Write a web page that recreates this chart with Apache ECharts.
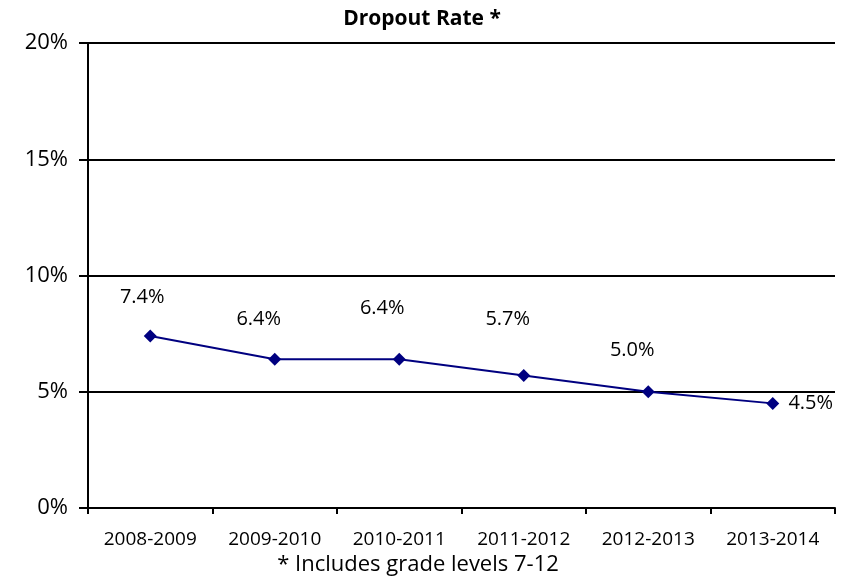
<!DOCTYPE html>
<html>
<head>
<meta charset="utf-8">
<script src="https://cdn.jsdelivr.net/npm/echarts@6/dist/echarts.min.js"></script>
<style>html,body{margin:0;padding:0;background:#fff}#c{width:844px;height:583px}</style>
</head>
<body>
<div id="c"></div>
<script>
const categories = ['2008-2009','2009-2010','2010-2011','2011-2012','2012-2013','2013-2014'];
const dropoutRate = [7.4, 6.4, 6.4, 5.7, 5.0, 4.5];
const labelTexts = ['7.4%','6.4%','6.4%','5.7%','5.0%','4.5%'];
const yTicks = [0, 5, 10, 15, 20];
const footnote = '* Includes grade levels 7-12';
// label placement (style only): pixel offset of label centre from its point
const labelOffsets = [[-8,-39],[-16,-40],[-17,-51],[-16,-56],[-16,-41],[38,0]];

const FONT = '"Open Sans", sans-serif';
const chart = echarts.init(document.getElementById('c'), null, {renderer:'canvas'});
chart.setOption({
  animation: false,
  backgroundColor: '#fff',
  title: {
    text: 'Dropout Rate *', left: 'center', top: 4,
    textStyle: {fontFamily: FONT, fontSize: 21, fontWeight: 'bold', color: '#000'}
  },
  grid: {left: 88, right: 9, top: 43, bottom: 75, containLabel: false},
  graphic: [{
    type: 'text', x: 418, y: 565,
    style: {text: footnote, fontFamily: FONT, fontSize: 22, fill: '#000', align: 'center', verticalAlign: 'middle'}
  }],
  xAxis: {
    type: 'category', data: categories, boundaryGap: true,
    axisLine: {lineStyle: {color: '#000', width: 2}},
    axisTick: {show: true, alignWithLabel: false, length: 6, lineStyle: {color: '#000', width: 2}},
    axisLabel: {fontFamily: FONT, fontSize: 19, color: '#000', margin: 22, interval: 0},
    splitLine: {show: false}
  },
  yAxis: {
    type: 'value', min: yTicks[0], max: yTicks[yTicks.length-1], interval: 5,
    axisLine: {show: true, lineStyle: {color: '#000', width: 2}},
    axisTick: {show: true, inside: false, length: 9, lineStyle: {color: '#000', width: 2}},
    axisLabel: {fontFamily: FONT, fontSize: 22, color: '#000', margin: 20, formatter: v => v + '%'},
    splitLine: {show: true, lineStyle: {color: '#000', width: 2}}
  },
  series: [{
    type: 'line',
    data: dropoutRate.map((v, i) => ({value: v, label: {offset: labelOffsets[i]}})),
    color: '#000080',
    lineStyle: {color: '#000080', width: 2},
    symbol: 'diamond', symbolSize: 13,
    itemStyle: {color: '#000080'},
    label: {
      show: true, position: 'inside',
      fontFamily: FONT, fontSize: 20, color: '#000',
      formatter: p => labelTexts[p.dataIndex]
    }
  }]
});
</script>
</body>
</html>
